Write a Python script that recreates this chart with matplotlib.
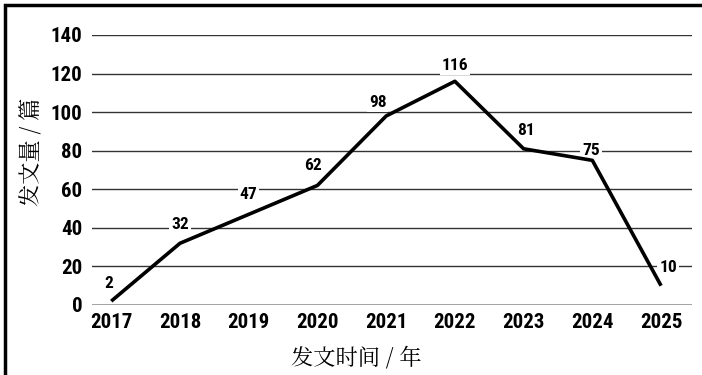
import matplotlib
matplotlib.use("Agg")
import matplotlib.pyplot as plt
from matplotlib.patches import Rectangle

years = [2017, 2018, 2019, 2020, 2021, 2022, 2023, 2024, 2025]
counts = [2, 32, 47, 62, 98, 116, 81, 75, 10]
yticks = [0, 20, 40, 60, 80, 100, 120, 140]

# label offsets in points (dx, dy)
offsets = [(-2, 7), (0, 8), (0, 9), (-3, 9), (-6, 4), (0, 6), (2, 8), (-1, 2), (5, 8)]

num_font = ["Roboto Condensed", "Liberation Sans", "DejaVu Sans"]
cjk_font = ["Noto Serif CJK JP", "Noto Serif CJK SC", "Noto Sans CJK SC", "DejaVu Sans"]

fig = plt.figure(figsize=(7.02, 3.75), dpi=100)
ax = fig.add_axes([92 / 702, 1 - 305 / 375, 600 / 702, 270 / 375])

for y in yticks[1:]:
    ax.axhline(y, color="#333333", lw=1.0, zorder=1)
ax.axhline(0, color="#888888", lw=1.8, zorder=1)

ax.plot(years, counts, color="black", lw=2.6, zorder=3, solid_capstyle="butt")

for x, y, (dx, dy) in zip(years, counts, offsets):
    ax.annotate(str(y), (x, y), xytext=(dx, dy), textcoords="offset points",
                ha="center", va="bottom", fontsize=12.5, fontweight="bold",
                family=num_font, zorder=2,
                bbox=dict(boxstyle="square,pad=0.1", fc="white", ec="none"))

ax.set_xlim(2016.72, 2025.45)
ax.set_ylim(0, 140)
ax.set_xticks(years)
ax.set_yticks(yticks)
ax.tick_params(length=0)
ax.tick_params(axis="y", pad=7)
ax.tick_params(axis="x", pad=6)
for lab in ax.get_xticklabels() + ax.get_yticklabels():
    lab.set_family(num_font)
    lab.set_fontweight("bold")
    lab.set_fontsize(15)
for s in ax.spines.values():
    s.set_visible(False)

ax.set_ylabel("发文量 / 篇", family=cjk_font, fontsize=16)
ax.set_xlabel("发文时间 / 年", family=cjk_font, fontsize=16)
ax.yaxis.set_label_coords(-0.1, 0.567)
ax.xaxis.set_label_coords(0.44, -0.196)
ax.xaxis.label.set_va("center")
ax.yaxis.label.set_va("center")

fig.patches.append(Rectangle((5 / 702, -0.1), 1.2, 1 - 5 / 375 + 0.1,
                             transform=fig.transFigure, fill=False,
                             ec="black", lw=2.5))

fig.savefig("out.png", dpi=100)
